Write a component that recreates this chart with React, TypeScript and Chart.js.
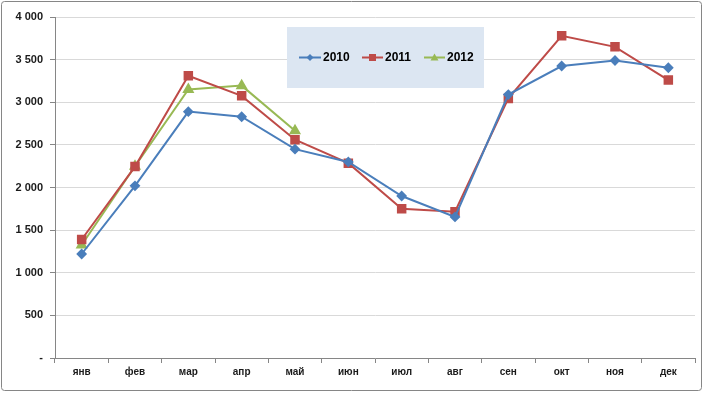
import React, { useEffect, useRef } from 'react';
import { Chart, registerables } from 'chart.js';
Chart.register(...registerables);

const months = ['янв', 'фев', 'мар', 'апр', 'май', 'июн', 'июл', 'авг', 'сен', 'окт', 'ноя', 'дек'];
const seriesNames = ['2010', '2011', '2012'];
const values2010 = [1220, 2020, 2890, 2830, 2450, 2300, 1900, 1655, 3090, 3425, 3490, 3405];
const values2011 = [1390, 2245, 3310, 3075, 2560, 2285, 1750, 1715, 3045, 3780, 3650, 3260];
const values2012 = [1325, 2250, 3150, 3195, 2665];
const yTicks = [0, 500, 1000, 1500, 2000, 2500, 3000, 3500, 4000];

const COLORS = ['#4a7ebb', '#be4b48', '#98b954'];
const FONT = '"Liberation Sans", Arial, sans-serif';

const frameAndLegend = {
  id: 'frameAndLegend',
  beforeDraw(chart: any) {
    const ctx = chart.ctx;
    ctx.save();
    ctx.fillStyle = '#ffffff';
    ctx.fillRect(0, 0, chart.width, chart.height);
    ctx.restore();
  },
  afterDraw(chart: any) {
    const ctx = chart.ctx;
    ctx.save();
    // outer frame
    ctx.strokeStyle = '#868686';
    ctx.lineWidth = 1;
    ctx.beginPath();
    (ctx as any).roundRect ? ctx.roundRect(1.5, 1.5, 700, 389, 3) : ctx.rect(1.5, 1.5, 700, 389);
    ctx.stroke();
    // legend box
    ctx.fillStyle = '#dce6f2';
    ctx.fillRect(287, 27, 197, 61);
    const items = [
      { x0: 299, x1: 321, tx: 323 },
      { x0: 362, x1: 383, tx: 385 },
      { x0: 424, x1: 445, tx: 447 },
    ];
    const cy = 57.5;
    chart.data.datasets.forEach((ds: any, i: number) => {
      const it = items[i];
      ctx.strokeStyle = ds.borderColor;
      ctx.lineWidth = 2;
      ctx.beginPath();
      ctx.moveTo(it.x0, cy);
      ctx.lineTo(it.x1, cy);
      ctx.stroke();
      const mx = (it.x0 + it.x1) / 2;
      ctx.fillStyle = ds.borderColor;
      ctx.beginPath();
      if (ds.pointStyle === 'rectRot') {
        const r = 3.5;
        ctx.moveTo(mx, cy - r); ctx.lineTo(mx + r, cy); ctx.lineTo(mx, cy + r); ctx.lineTo(mx - r, cy);
      } else if (ds.pointStyle === 'rect') {
        ctx.rect(mx - 3.5, cy - 3.5, 7, 7);
      } else {
        ctx.moveTo(mx, cy - 4); ctx.lineTo(mx + 4, cy + 3); ctx.lineTo(mx - 4, cy + 3);
      }
      ctx.closePath();
      ctx.fill();
      ctx.fillStyle = '#000000';
      ctx.font = `bold 12px ${FONT}`;
      ctx.textBaseline = 'middle';
      ctx.textAlign = 'left';
      ctx.fillText(ds.label, it.tx, cy + 0.5);
    });
    ctx.restore();
  },
};

export default function App() {
  const ref = useRef<HTMLCanvasElement | null>(null);
  useEffect(() => {
    document.body.style.margin = '0';
    const canvas = ref.current!;
    const chart = new Chart(canvas, {
      type: 'line',
      data: {
        labels: months,
        datasets: [
          { label: seriesNames[0], data: values2010, borderColor: COLORS[0], backgroundColor: COLORS[0], pointStyle: 'rectRot', pointRadius: 4, pointHoverRadius: 4, borderWidth: 2, tension: 0 },
          { label: seriesNames[1], data: values2011, borderColor: COLORS[1], backgroundColor: COLORS[1], pointStyle: 'rect', pointRadius: 5.3, pointHoverRadius: 5.3, borderWidth: 2, tension: 0 },
          { label: seriesNames[2], data: values2012, borderColor: COLORS[2], backgroundColor: COLORS[2], pointStyle: 'triangle', pointRadius: 5, pointHoverRadius: 5, borderWidth: 2, tension: 0 },
        ],
      },
      options: {
        responsive: false,
        animation: false,
        layout: { padding: { top: 17, right: 9, left: 0, bottom: 0 } },
        plugins: { legend: { display: false }, tooltip: { enabled: false } },
        scales: {
          x: {
            offset: true,
            grid: { offset: true, drawOnChartArea: false, drawTicks: true, tickLength: 5, color: '#868686' },
            border: { color: '#868686', width: 1 },
            ticks: { color: '#1a1a1a', font: { family: FONT, size: 10, weight: 'bold' }, padding: 3, maxRotation: 0, autoSkip: false },
            afterFit: (s: any) => { s.height = 35; },
          },
          y: {
            min: 0,
            max: 4000,
            afterBuildTicks: (s: any) => { s.ticks = yTicks.map((v) => ({ value: v })); },
            grid: { color: '#d9d9d9', tickColor: '#868686', tickLength: 5, drawTicks: true },
            border: { color: '#868686', width: 1 },
            ticks: {
              color: '#1a1a1a',
              padding: 7,
              font: { family: FONT, size: 11, weight: 'bold' },
              callback: (v: any) => (Number(v) === 0 ? '-' : Number(v).toLocaleString('en-US').replace(/,/g, ' ')),
            },
            afterFit: (s: any) => { s.width = 55; },
          },
        },
      },
      plugins: [frameAndLegend],
    } as any);
    return () => chart.destroy();
  }, []);
  return <canvas ref={ref} width={704} height={393} style={{ display: 'block' }} />;
}
